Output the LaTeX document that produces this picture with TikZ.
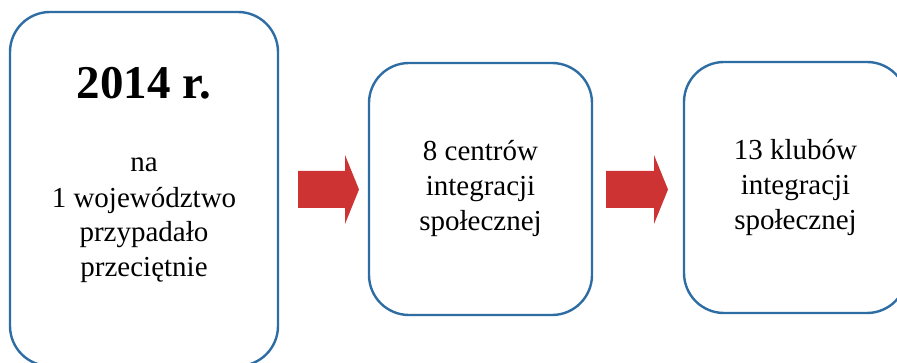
\documentclass[tikz,border=0pt]{standalone}
\usepackage{fontspec}
\setmainfont{Liberation Serif}
\definecolor{boxblue}{RGB}{46,109,164}
\definecolor{arrowred}{RGB}{205,51,51}
\begin{document}
\begin{tikzpicture}[x=1pt,y=-1pt,
  infobox/.style={draw=boxblue, line width=2.4pt, rounded corners=40pt, fill=white,
    align=center, inner sep=0pt, font=\fontsize{29}{35}\selectfont},
  bigarrow/.style={fill=arrowred}]
\useasboundingbox (0,0) rectangle (897,363);
\clip (0,0) rectangle (897,363);

\node[infobox, minimum width=268pt, minimum height=354pt] (rok) at (144,189) {};
\node[infobox, minimum width=223pt, minimum height=252pt] (centra) at (480.5,189)
  {8 centrów\\integracji\\społecznej};
\node[infobox, minimum width=223pt, minimum height=251pt] (kluby) at (795.5,187.5)
  {13 klubów\\integracji\\społecznej};

\node[font=\fontsize{47}{50}\selectfont\bfseries, anchor=base] (tytul) at (144,99) {2014 r.};
\node[font=\fontsize{29}{35}\selectfont, align=center, anchor=base] (opis) at (144,277)
  {na\\1 województwo\\przypadało\\przeciętnie};

\fill[bigarrow] (298,171) -- (345,171) -- (345,155) -- (359,189.5) -- (345,224) -- (345,208) -- (298,208) -- cycle;
\fill[bigarrow] (606,171) -- (654,171) -- (654,155) -- (668,189.5) -- (654,224) -- (654,208) -- (606,208) -- cycle;
\end{tikzpicture}
\end{document}
